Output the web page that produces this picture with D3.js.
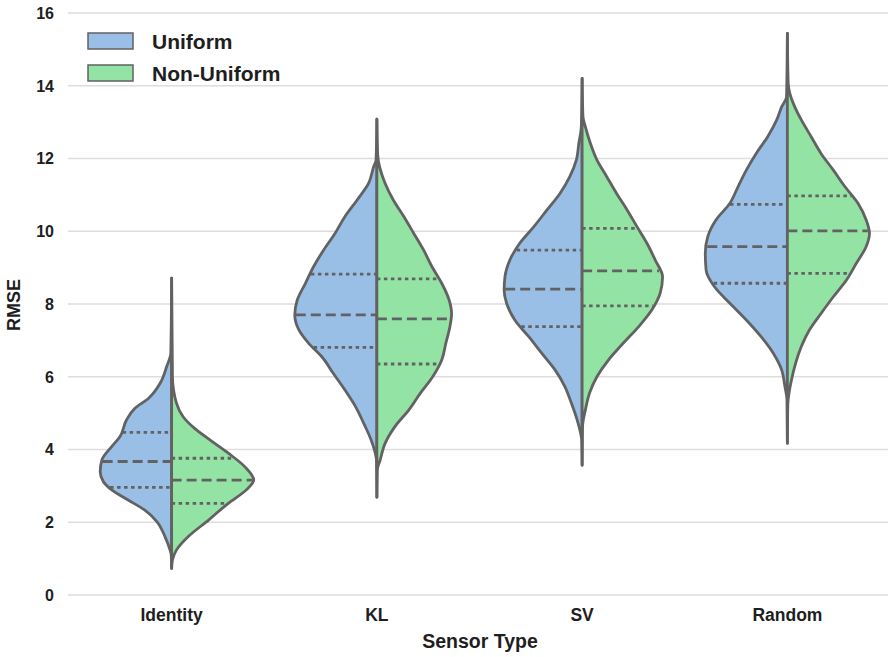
<!DOCTYPE html>
<html>
<head>
<meta charset="utf-8">
<script src="https://cdn.jsdelivr.net/npm/d3@7"></script>
<style>
  html, body { margin: 0; padding: 0; background: #fff; }
  svg text { font-family: "Liberation Sans", Arial, sans-serif; font-weight: bold; fill: #1e1e1e; }
</style>
</head>
<body>
<svg id="chart" width="888" height="657"></svg>
<script>
// Sensor types along the x axis and the two sampling schemes (split halves)
const categories = ["Identity", "KL", "SV", "Random"];
const groups = ["Uniform", "Non-Uniform"];
const yTicks = [0, 2, 4, 6, 8, 10, 12, 14, 16];

// Extent of the observed RMSE values per sensor type [min, max]
const extentIdentity = [0.73, 8.71];
const extentKL = [2.69, 13.08];
const extentSV = [3.57, 14.2];
const extentRandom = [4.17, 15.44];

// Kernel density profiles: [RMSE, relative density], top to bottom
const densIdentityUniform = [[6.65, 0.01], [6.28, 0.06], [5.82, 0.14], [5.41, 0.28], [5.13, 0.45], [4.81, 0.55], [4.35, 0.63], [4.08, 0.73], [3.71, 0.85], [3.39, 0.87], [3.11, 0.83], [2.89, 0.73], [2.61, 0.53], [2.34, 0.33], [2.02, 0.18], [1.60, 0.08], [1.24, 0.02], [1.10, 0.005]];
const densIdentityNonUniform = [[6.00, 0.01], [5.27, 0.06], [4.90, 0.14], [4.58, 0.28], [4.26, 0.47], [3.90, 0.69], [3.53, 0.89], [3.16, 1.00], [2.89, 0.91], [2.52, 0.69], [2.06, 0.45], [1.60, 0.20], [1.24, 0.06], [0.96, 0.01]];
const densKLUniform = [[11.96, 0.01], [11.77, 0.04], [11.32, 0.10], [10.86, 0.24], [10.40, 0.39], [9.94, 0.51], [9.48, 0.65], [9.03, 0.77], [8.57, 0.87], [8.11, 0.97], [7.70, 1.00], [7.29, 0.95], [6.92, 0.83], [6.55, 0.67], [6.09, 0.53], [5.64, 0.39], [5.18, 0.26], [4.72, 0.16], [4.26, 0.07], [3.90, 0.02], [3.71, 0.005]];
const densKLNonUniform = [[12.10, 0.01], [11.32, 0.10], [10.86, 0.20], [10.40, 0.33], [9.94, 0.45], [9.48, 0.57], [9.03, 0.67], [8.57, 0.79], [8.11, 0.88], [7.74, 0.91], [7.38, 0.89], [6.92, 0.84], [6.46, 0.79], [6.00, 0.68], [5.55, 0.53], [5.09, 0.39], [4.63, 0.22], [4.17, 0.10], [3.71, 0.04], [3.44, 0.005]];
const densSVUniform = [[12.87, 0.01], [12.42, 0.04], [11.96, 0.07], [11.50, 0.15], [11.04, 0.27], [10.58, 0.43], [10.12, 0.59], [9.67, 0.76], [9.21, 0.88], [8.75, 0.94], [8.38, 0.95], [8.02, 0.92], [7.56, 0.82], [7.10, 0.65], [6.64, 0.49], [6.19, 0.33], [5.73, 0.21], [5.27, 0.13], [4.81, 0.06], [4.35, 0.01], [4.26, 0.005]];
const densSVNonUniform = [[13.15, 0.01], [12.87, 0.04], [12.42, 0.10], [11.96, 0.18], [11.50, 0.30], [11.04, 0.42], [10.58, 0.55], [10.12, 0.67], [9.67, 0.79], [9.21, 0.89], [8.75, 0.98], [8.29, 0.95], [7.84, 0.85], [7.38, 0.69], [6.92, 0.50], [6.46, 0.32], [6.00, 0.18], [5.55, 0.09], [5.09, 0.04], [4.63, 0.005]];
const densRandomUniform = [[13.70, 0.01], [13.42, 0.07], [13.06, 0.13], [12.60, 0.24], [12.14, 0.38], [11.68, 0.50], [11.23, 0.60], [10.77, 0.70], [10.31, 0.87], [9.85, 0.97], [9.39, 1.00], [8.93, 0.99], [8.48, 0.89], [8.02, 0.70], [7.56, 0.50], [7.10, 0.32], [6.64, 0.17], [6.19, 0.07], [5.73, 0.03], [5.36, 0.005]];
const densRandomNonUniform = [[14.07, 0.01], [13.79, 0.03], [13.42, 0.09], [13.06, 0.17], [12.60, 0.29], [12.14, 0.41], [11.68, 0.56], [11.23, 0.70], [10.77, 0.86], [10.31, 0.96], [9.94, 1.00], [9.58, 0.96], [9.12, 0.84], [8.66, 0.72], [8.20, 0.56], [7.74, 0.41], [7.29, 0.27], [6.83, 0.17], [6.37, 0.10], [5.91, 0.05], [5.55, 0.02], [5.22, 0.005]];

// Quartiles [Q1, median, Q3]
const quartIdentityUniform = [2.96, 3.67, 4.47];
const quartIdentityNonUniform = [2.52, 3.16, 3.76];
const quartKLUniform = [6.81, 7.70, 8.82];
const quartKLNonUniform = [6.35, 7.59, 8.69];
const quartSVUniform = [7.38, 8.41, 9.48];
const quartSVNonUniform = [7.95, 8.91, 10.08];
const quartRandomUniform = [8.57, 9.58, 10.74];
const quartRandomNonUniform = [8.84, 10.01, 10.97];

const violins = [
  { cat: "Identity", extent: extentIdentity, halves: [densIdentityUniform, densIdentityNonUniform], quarts: [quartIdentityUniform, quartIdentityNonUniform] },
  { cat: "KL", extent: extentKL, halves: [densKLUniform, densKLNonUniform], quarts: [quartKLUniform, quartKLNonUniform] },
  { cat: "SV", extent: extentSV, halves: [densSVUniform, densSVNonUniform], quarts: [quartSVUniform, quartSVNonUniform] },
  { cat: "Random", extent: extentRandom, halves: [densRandomUniform, densRandomNonUniform], quarts: [quartRandomUniform, quartRandomNonUniform] }
];

const fills = ["#9abfe7", "#93e3a4"];
const edge = "#626262";

const svg = d3.select("#chart");
const x = d3.scaleBand().domain(categories).range([69, 890]).paddingInner(0).paddingOuter(0);
const y = d3.scaleLinear().domain([0, 16]).range([595, 13]);
const w = d3.scaleLinear().domain([0, 1]).range([0, x.bandwidth() * 0.4]);

// Horizontal grid
svg.append("g").selectAll("line").data(yTicks).join("line")
  .attr("x1", 68).attr("x2", 888)
  .attr("y1", d => y(d)).attr("y2", d => y(d))
  .attr("stroke", "#dddddd").attr("stroke-width", 1.5);

// Y tick labels
svg.append("g").selectAll("text").data(yTicks).join("text")
  .attr("x", 54).attr("y", d => y(d)).attr("dy", "0.36em")
  .attr("text-anchor", "end").attr("font-size", 16)
  .text(d => d);

// X tick labels
svg.append("g").selectAll("text").data(categories).join("text")
  .attr("x", d => x(d) + x.bandwidth() / 2).attr("y", 621)
  .attr("text-anchor", "middle").attr("font-size", 17.5)
  .text(d => d);

// Axis titles
svg.append("text").attr("x", 480).attr("y", 648).attr("text-anchor", "middle")
  .attr("font-size", 19.5).text("Sensor Type");
svg.append("text").attr("transform", "translate(20,305) rotate(-90)")
  .attr("text-anchor", "middle").attr("font-size", 18).text("RMSE");

// Linear interpolation of a density profile at a given value
function densAt(profile, v) {
  for (let i = 0; i < profile.length - 1; i++) {
    const a = profile[i], b = profile[i + 1];
    if (v <= a[0] && v >= b[0]) {
      const t = (a[0] - v) / (a[0] - b[0]);
      return a[1] + t * (b[1] - a[1]);
    }
  }
  return 0;
}

const violinG = svg.append("g");
violins.forEach(vd => {
  const cx = x(vd.cat) + x.bandwidth() / 2;
  vd.halves.forEach((prof, hi) => {
    const side = hi === 0 ? -1 : 1;
    const pts = [[vd.extent[1], 0], ...prof, [vd.extent[0], 0]];
    const area = d3.area()
      .y(d => y(d[0]))
      .x0(cx)
      .x1(d => cx + side * w(d[1]))
      .curve(d3.curveMonotoneY);
    violinG.append("path")
      .attr("d", area(pts))
      .attr("fill", fills[hi])
      .attr("stroke", edge).attr("stroke-width", 2.8)
      .attr("stroke-linejoin", "round");

    // Quartile markers: dotted for Q1/Q3, dashed for the median
    vd.quarts[hi].forEach((q, qi) => {
      const half = w(densAt(prof, q)) - 1;
      const xa = hi === 0 ? cx - half : cx;
      const xb = hi === 0 ? cx : cx + half;
      violinG.append("line")
        .attr("x1", xa).attr("x2", xb)
        .attr("y1", y(q)).attr("y2", y(q))
        .attr("stroke", edge).attr("stroke-width", 2.8)
        .attr("stroke-dasharray", qi === 1 ? "10,5" : "3.5,3.5");
    });
  });
});

// Legend
const legend = svg.append("g");
groups.forEach((g, i) => {
  legend.append("rect")
    .attr("x", 88).attr("y", 33 + i * 32).attr("width", 45).attr("height", 16)
    .attr("fill", fills[i]).attr("stroke", edge).attr("stroke-width", 1.5);
  legend.append("text")
    .attr("x", 152).attr("y", 48.5 + i * 32).attr("font-size", 21)
    .text(g);
});
</script>
</body>
</html>
